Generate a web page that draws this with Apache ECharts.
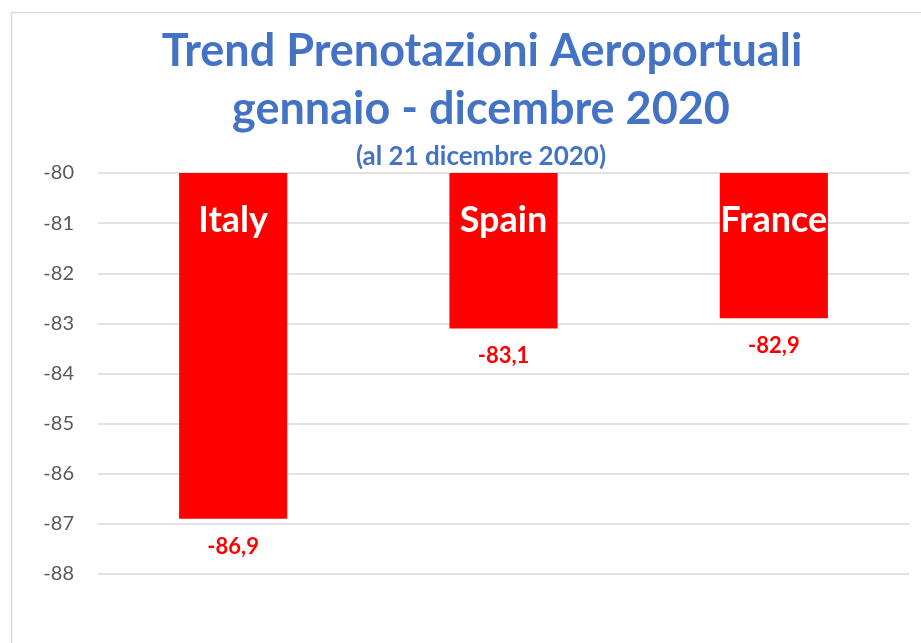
<!DOCTYPE html>
<html>
<head>
<meta charset="utf-8">
<script src="https://cdn.jsdelivr.net/npm/echarts@6/dist/echarts.min.js"></script>
<style>
  html, body { margin: 0; padding: 0; background: #fff; }
  #chart { width: 921px; height: 643px; }
</style>
</head>
<body>
<div id="chart"></div>
<script>
  // dati
  const countries = ['Italy', 'Spain', 'France'];
  const trend = [-86.9, -83.1, -82.9];
  const titleLines = ['Trend Prenotazioni Aeroportuali', 'gennaio - dicembre 2020'];
  const subTitle = '(al 21 dicembre 2020)';

  const myChart = echarts.init(document.getElementById('chart'));
  const fnt = 'Lato, "Open Sans", sans-serif';
  const blue = '#4472C4';

  const option = {
    backgroundColor: '#fff',
    animation: false,
    textStyle: { fontFamily: fnt },
    graphic: [
      {
        type: 'rect', left: 9, top: 10, z: -1,
        shape: { width: 940, height: 660 },
        style: { fill: 'none', stroke: '#d9d9d9', lineWidth: 1.5 }
      },
      {
        type: 'text', x: 482, y: 51,
        style: { text: titleLines[0], fill: blue, font: 'bold 45px ' + fnt, textAlign: 'center', textVerticalAlign: 'middle' }
      },
      {
        type: 'text', x: 481, y: 109,
        style: { text: titleLines[1], fill: blue, font: 'bold 45px ' + fnt, textAlign: 'center', textVerticalAlign: 'middle' }
      },
      {
        type: 'text', x: 481, y: 157,
        style: { text: subTitle, fill: blue, font: 'bold 26px ' + fnt, textAlign: 'center', textVerticalAlign: 'middle' }
      }
    ],
    grid: { left: 98, right: 12, top: 173, bottom: 69, containLabel: false },
    xAxis: {
      type: 'category',
      data: countries,
      axisLine: { show: false },
      axisTick: { show: false },
      axisLabel: { show: false }
    },
    yAxis: {
      type: 'value',
      min: -88,
      max: -80,
      interval: 1,
      axisLine: { show: false },
      axisTick: { show: false },
      axisLabel: { color: '#595959', fontSize: 20, margin: 24, fontFamily: fnt },
      splitLine: { lineStyle: { color: '#d9d9d9', width: 1.5 } }
    },
    series: [
      {
        name: 'valore',
        type: 'bar',
        data: trend,
        barWidth: '40%',
        clip: true,
        itemStyle: { color: '#FF0000' },
        label: {
          show: true,
          position: 'bottom',
          distance: 17,
          color: '#FF0000',
          fontWeight: 'bold',
          fontSize: 22,
          fontFamily: fnt,
          formatter: p => String(p.value).replace('.', ',')
        }
      },
      {
        name: 'paese',
        type: 'bar',
        data: trend,
        barWidth: '40%',
        barGap: '-100%',
        clip: true,
        itemStyle: { color: 'rgba(0,0,0,0)' },
        label: {
          show: true,
          position: 'insideTop',
          distance: 29,
          color: '#fff',
          fontWeight: 'bold',
          fontSize: 36,
          fontFamily: fnt,
          formatter: p => p.name
        }
      }
    ]
  };
  myChart.setOption(option);
</script>
</body>
</html>
